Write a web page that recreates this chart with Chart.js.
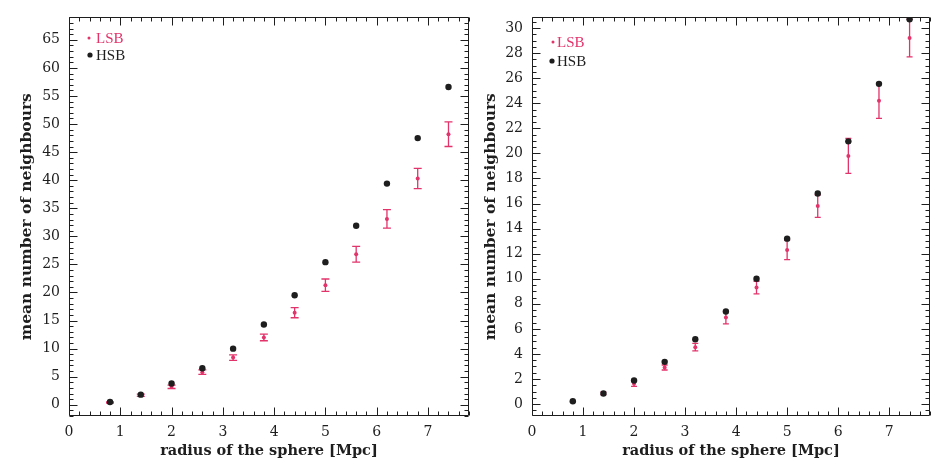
<!DOCTYPE html>
<html>
<head>
<meta charset="utf-8">
<script src="https://cdn.jsdelivr.net/npm/chart.js@4.4.1/dist/chart.umd.min.js"></script>
<style>
  html, body { margin: 0; padding: 0; background: #fff; }
  #wrap { position: relative; width: 934px; height: 464px; overflow: hidden; }
  canvas { position: absolute; top: 0; }
  #left { left: 0; }
  #right { left: 473px; }
</style>
</head>
<body>
<div id="wrap">
  <canvas id="left" width="473" height="464"></canvas>
  <canvas id="right" width="461" height="464"></canvas>
</div>
<script>
// sphere radii (Mpc)
const radius = [0.8, 1.4, 2.0, 2.6, 3.2, 3.8, 4.4, 5.0, 5.6, 6.2, 6.8, 7.4];

// left panel: mean number of neighbours
const leftHSB    = [0.5, 1.8, 3.8, 6.5, 10.0, 14.3, 19.5, 25.4, 31.9, 39.4, 47.5, 56.6];
const leftLSB    = [0.4, 1.7, 3.2, 5.8, 8.4, 12.0, 16.4, 21.3, 26.8, 33.1, 40.3, 48.2];
const leftLSBErr = [0.1, 0.2, 0.3, 0.4, 0.5, 0.6, 0.9, 1.1, 1.4, 1.65, 1.8, 2.2];

// right panel: mean number of neighbours
const rightHSB    = [0.23, 0.84, 1.88, 3.37, 5.17, 7.39, 10.0, 13.2, 16.8, 20.96, 25.55, 30.7];
const rightLSB    = [0.2, 0.85, 1.62, 2.92, 4.54, 6.9, 9.3, 12.3, 15.8, 19.8, 24.2, 29.2];
const rightLSBErr = [0.05, 0.1, 0.2, 0.2, 0.3, 0.5, 0.5, 0.78, 0.9, 1.4, 1.4, 1.5];

// tick labels
const xTicks      = [0, 1, 2, 3, 4, 5, 6, 7];
const leftYTicks  = [0, 5, 10, 15, 20, 25, 30, 35, 40, 45, 50, 55, 60, 65];
const rightYTicks = [0, 2, 4, 6, 8, 10, 12, 14, 16, 18, 20, 22, 24, 26, 28, 30];

const seriesNames = ['LSB', 'HSB'];
const xTitle = 'radius of the sphere [Mpc]';
const yTitle = 'mean number of neighbours';

const RED = '#e3336b';
const INK = '#1e1e1e';
const FONT = "'DejaVu Serif', 'Liberation Serif', serif";

// frame with inward major/minor ticks on all four sides
const framePlugin = {
  id: 'frame',
  afterDatasetsDraw(chart, args, opts) {
    const { ctx, chartArea: a, scales: { x, y } } = chart;
    ctx.save();
    ctx.strokeStyle = INK;
    ctx.lineWidth = 1;
    ctx.beginPath();
    const L = Math.round(a.left) + 0.5, R = Math.round(a.right) - 0.5;
    const T = Math.round(a.top) + 0.5, B = Math.round(a.bottom) - 0.5;
    ctx.rect(L, T, R - L, B - T);
    const tickX = (v, len) => {
      const px = Math.round(x.getPixelForValue(v)) + 0.5;
      ctx.moveTo(px, B); ctx.lineTo(px, B - len);
      ctx.moveTo(px, T); ctx.lineTo(px, T + len);
    };
    const tickY = (v, len) => {
      const py = Math.round(y.getPixelForValue(v)) + 0.5;
      ctx.moveTo(L, py); ctx.lineTo(L + len, py);
      ctx.moveTo(R, py); ctx.lineTo(R - len, py);
    };
    for (let i = Math.ceil(x.min / opts.xMinor); i * opts.xMinor <= x.max + 1e-9; i++) {
      const v = i * opts.xMinor;
      const major = Math.abs(v / opts.xMajor - Math.round(v / opts.xMajor)) < 1e-6;
      tickX(v, major ? 8 : 4);
    }
    for (let i = Math.ceil(y.min / opts.yMinor); i * opts.yMinor <= y.max + 1e-9; i++) {
      const v = i * opts.yMinor;
      const major = Math.abs(v / opts.yMajor - Math.round(v / opts.yMajor)) < 1e-6;
      tickY(v, major ? 8 : 4);
    }
    ctx.stroke();
    ctx.restore();
  }
};

// vertical error bars for the LSB series
const errorBarPlugin = {
  id: 'errbars',
  beforeDatasetsDraw(chart, args, opts) {
    const { ctx, scales: { x, y } } = chart;
    ctx.save();
    ctx.strokeStyle = RED;
    ctx.lineWidth = 1.3;
    ctx.beginPath();
    opts.values.forEach((v, i) => {
      const e = opts.errors[i];
      const px = x.getPixelForValue(opts.xs[i]);
      const y1 = y.getPixelForValue(v - e), y2 = y.getPixelForValue(v + e);
      ctx.moveTo(px, y1); ctx.lineTo(px, y2);
      ctx.moveTo(px - opts.cap, y1); ctx.lineTo(px + opts.cap, y1);
      ctx.moveTo(px - opts.cap, y2); ctx.lineTo(px + opts.cap, y2);
    });
    ctx.stroke();
    ctx.restore();
  }
};

// key in the upper-left corner
const keyPlugin = {
  id: 'key',
  afterDraw(chart, args, opts) {
    const { ctx } = chart;
    ctx.save();
    ctx.font = "15px 'Liberation Serif', serif";
    ctx.textBaseline = 'middle';
    ctx.textAlign = 'left';
    opts.items.forEach(it => {
      ctx.fillStyle = it.color;
      ctx.beginPath();
      ctx.arc(it.dotX, it.y, it.r, 0, Math.PI * 2);
      ctx.fill();
      ctx.fillText(it.text, it.textX, it.y + 1);
    });
    ctx.restore();
  }
};

function makePanel(canvasId, cfg) {
  return new Chart(document.getElementById(canvasId), {
    type: 'scatter',
    data: {
      datasets: [
        {
          label: seriesNames[1],
          data: radius.map((r, i) => ({ x: r, y: cfg.hsb[i] })),
          backgroundColor: INK, borderColor: INK,
          pointRadius: 3.2, pointBorderWidth: 0
        },
        {
          label: seriesNames[0],
          data: radius.map((r, i) => ({ x: r, y: cfg.lsb[i] })),
          backgroundColor: RED, borderColor: RED,
          pointRadius: cfg.lsbRadius, pointBorderWidth: 0
        }
      ]
    },
    options: {
      responsive: false,
      animation: false,
      events: [],
      layout: { padding: cfg.padding },
      plugins: {
        legend: { display: false },
        tooltip: { enabled: false },
        frame: { xMajor: 1, xMinor: 0.2, yMajor: cfg.yMajor, yMinor: cfg.yMinor },
        errbars: { xs: radius, values: cfg.lsb, errors: cfg.err, cap: cfg.cap },
        key: { items: cfg.key }
      },
      scales: {
        x: {
          type: 'linear', min: 0, max: 7.8,
          afterBuildTicks: s => { s.ticks = xTicks.map(v => ({ value: v })); },
          afterFit: s => { s.height = 48; },
          grid: { display: false, drawTicks: false },
          border: { display: false },
          ticks: { padding: 8, color: INK, font: { family: FONT, size: 14 }, maxRotation: 0 },
          title: {
            display: true, text: xTitle, color: INK,
            font: { family: FONT, size: 14.5, weight: 'bold' },
            padding: { top: 0, bottom: 4 }
          }
        },
        y: {
          type: 'linear', min: cfg.yMin, max: cfg.yMax,
          afterBuildTicks: s => { s.ticks = cfg.yTicks.map(v => ({ value: v })); },
          afterFit: s => { s.width = cfg.yWidth; },
          grid: { display: false, drawTicks: false },
          border: { display: false },
          ticks: { padding: 9, color: INK, font: { family: FONT, size: 14 } },
          title: {
            display: true, text: yTitle, color: INK,
            font: { family: FONT, size: 15.5, weight: 'bold' },
            padding: { top: cfg.yTitlePad, bottom: 0 }
          }
        }
      }
    },
    plugins: [framePlugin, errorBarPlugin, keyPlugin]
  });
}

makePanel('left', {
  hsb: leftHSB, lsb: leftLSB, err: leftLSBErr, lsbRadius: 2,
  yMin: -2, yMax: 69, yTicks: leftYTicks, yMajor: 5, yMinor: 1,
  padding: { left: 0, top: 9, right: 2, bottom: 0 },
  yWidth: 69, yTitlePad: 17.5, cap: 4,
  key: [
    { text: seriesNames[0], color: RED, dotX: 89, textX: 96, y: 38, r: 1.5 },
    { text: seriesNames[1], color: INK, dotX: 90, textX: 96, y: 55, r: 2.6 }
  ]
});

makePanel('right', {
  hsb: rightHSB, lsb: rightLSB, err: rightLSBErr, lsbRadius: 2,
  yMin: -0.95, yMax: 30.85, yTicks: rightYTicks, yMajor: 2, yMinor: 0.5,
  padding: { left: 0, top: 10, right: 1, bottom: 0 },
  yWidth: 59, yTitlePad: 8.5, cap: 3,
  key: [
    { text: seriesNames[0], color: RED, dotX: 80, textX: 84, y: 42, r: 1.5 },
    { text: seriesNames[1], color: INK, dotX: 79, textX: 84, y: 61, r: 2.6 }
  ]
});
</script>
</body>
</html>
